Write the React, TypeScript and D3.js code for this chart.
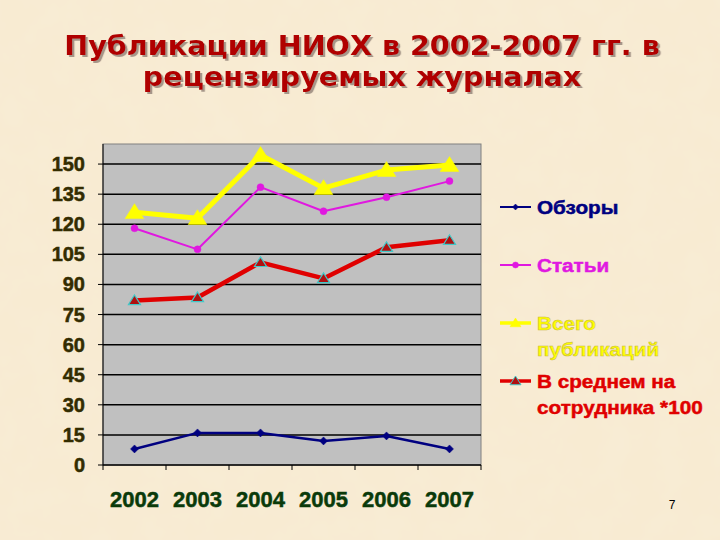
import React from 'react';
import * as d3 from 'd3';

const years = ['2002', '2003', '2004', '2005', '2006', '2007'];
const yTicks = [0, 15, 30, 45, 60, 75, 90, 105, 120, 135, 150];

const reviews = [8, 16, 16, 12, 14.5, 8];
const articles = [118, 107.5, 138.5, 126.5, 133.5, 141.5];
const totals = [126, 123, 154.5, 138, 147, 149.5];
const perEmployee = [82, 83.5, 101, 93, 108.5, 112];

const titleLines = ['Публикации НИОХ в 2002-2007 гг. в', 'рецензируемых журналах'];

type Marker = 'diamond' | 'circle' | 'triangle';

const series: {
  name: string[];
  values: number[];
  color: string;
  width: number;
  marker: Marker;
  markerFill: string;
  markerStroke: string;
  markerSize: number;
}[] = [
  { name: ['Обзоры'], values: reviews, color: '#000080', width: 2.5, marker: 'diamond', markerFill: '#000080', markerStroke: '#000080', markerSize: 4 },
  { name: ['Статьи'], values: articles, color: '#e018e0', width: 2, marker: 'circle', markerFill: '#e018e0', markerStroke: '#e018e0', markerSize: 3.5 },
  { name: ['Всего', 'публикаций'], values: totals, color: '#ffff00', width: 5, marker: 'triangle', markerFill: '#ffff00', markerStroke: '#ffff00', markerSize: 8.5 },
  { name: ['В среднем на', 'сотрудника *100'], values: perEmployee, color: '#e00000', width: 4.5, marker: 'triangle', markerFill: '#b01010', markerStroke: '#40c8c8', markerSize: 5.5 },
];

const legendY = [207, 265, 323, 381];

const markerPath = (m: Marker, s: number) => {
  if (m === 'diamond') return `M0,${-s}L${s},0L0,${s}L${-s},0Z`;
  if (m === 'circle') return d3.symbol(d3.symbolCircle, Math.PI * s * s)() as string;
  return `M0,${-s}L${s * 1.1},${s * 0.75}L${-s * 1.1},${s * 0.75}Z`;
};

const App: React.FC = () => {
  const left = 103, right = 481, top = 144, bottom = 465;
  const x = d3.scaleBand<string>().domain(years).range([left, right]);
  const y = d3.scaleLinear().domain([0, 160]).range([bottom, top]);
  const cx = (i: number) => (x(years[i]) as number) + x.bandwidth() / 2;
  const line = d3.line<number>().x((_, i) => cx(i)).y(d => y(d));

  return (
    <svg width={720} height={540} style={{ position: 'absolute', left: 0, top: 0 }}
      fontFamily="Arial, 'Liberation Sans', sans-serif">
      <defs>
        <filter id="sh" x="-5%" y="-20%" width="110%" height="140%">
          <feDropShadow dx="2" dy="2" stdDeviation="0.7" floodColor="#8a7a70" floodOpacity="0.75" />
        </filter>
        <filter id="paper" x="0" y="0" width="100%" height="100%">
          <feTurbulence type="fractalNoise" baseFrequency="0.035" numOctaves={3} seed={4} />
          <feColorMatrix type="matrix"
            values="0 0 0 0 0.95  0 0 0 0 0.87  0 0 0 0 0.72  0 0 0 0.45 -0.15" />
        </filter>
      </defs>
      <rect width={720} height={540} fill="#f8ebd2" />
      <rect width={720} height={540} filter="url(#paper)" />

      {titleLines.map((t, i) => (
        <g key={t} transform={`translate(362,${55 + i * 31}) scale(1.1,1)`}>
          <text textAnchor="middle" fontFamily="'DejaVu Sans', Verdana, sans-serif"
            fontWeight="bold" fontSize={26} fill="#b00000" filter="url(#sh)">{t}</text>
        </g>
      ))}

      <rect x={left} y={top} width={right - left} height={bottom - top} fill="#c0c0c0" stroke="#808080" strokeWidth={1} />
      {yTicks.filter(t => t > 0).map(t => (
        <line key={t} x1={left} x2={right} y1={y(t)} y2={y(t)} stroke="#000" strokeWidth={1.5} />
      ))}
      <line x1={left} x2={left} y1={top} y2={bottom} stroke="#000" />
      <line x1={left} x2={right} y1={bottom} y2={bottom} stroke="#000" strokeWidth={1.5} />
      {yTicks.map(t => (
        <g key={t}>
          <line x1={left - 5} x2={left} y1={y(t)} y2={y(t)} stroke="#000" />
          <text x={left - 18} y={y(t) + 7} textAnchor="end" fontWeight="bold" fontSize={20}
            fill="#332c00" stroke="#332c00" strokeWidth={0.5}>{t}</text>
        </g>
      ))}
      {years.map(yr => (
        <line key={yr} x1={x(yr)} x2={x(yr)} y1={bottom} y2={bottom + 5} stroke="#000" />
      ))}
      <line x1={right} x2={right} y1={bottom} y2={bottom + 5} stroke="#000" />
      {years.map((yr, i) => (
        <text key={yr} x={cx(i)} y={507} textAnchor="middle" fontWeight="bold" fontSize={22}
          fill="#0a3a0a" stroke="#0a3a0a" strokeWidth={0.5}>{yr}</text>
      ))}

      {series.map(s => (
        <g key={s.name[0]}>
          <path d={line(s.values) as string} fill="none" stroke={s.color} strokeWidth={s.width} strokeLinejoin="round" />
          {s.values.map((v, i) => (
            <path key={i} transform={`translate(${cx(i)},${y(v)})`} d={markerPath(s.marker, s.markerSize)}
              fill={s.markerFill} stroke={s.markerStroke} strokeWidth={s.markerStroke === s.markerFill ? 0.5 : 1.2} />
          ))}
        </g>
      ))}

      {series.map((s, k) => (
        <g key={'lg' + k}>
          <line x1={500} x2={531} y1={legendY[k]} y2={legendY[k]} stroke={s.color} strokeWidth={s.width > 3 ? 3.5 : 2} />
          <path transform={`translate(515.5,${legendY[k]})`} d={markerPath(s.marker, s.marker === 'triangle' ? 5 : 3)}
            fill={s.markerFill} stroke={s.markerStroke} strokeWidth={s.markerStroke === s.markerFill ? 0.5 : 1} />
          {s.name.map((n, j) => (
            <g key={n} transform={`translate(537,${legendY[k] + 7 + j * 26}) scale(1.09,1)`}>
              <text fontWeight="bold" fontSize={19} fill={s.color}
                stroke={s.color === '#ffff00' ? '#c8b840' : s.color} strokeWidth={0.5}>{n}</text>
            </g>
          ))}
        </g>
      ))}

      <text x={672} y={509} textAnchor="middle" fontSize={12} fill="#000">7</text>
    </svg>
  );
};

export default App;
